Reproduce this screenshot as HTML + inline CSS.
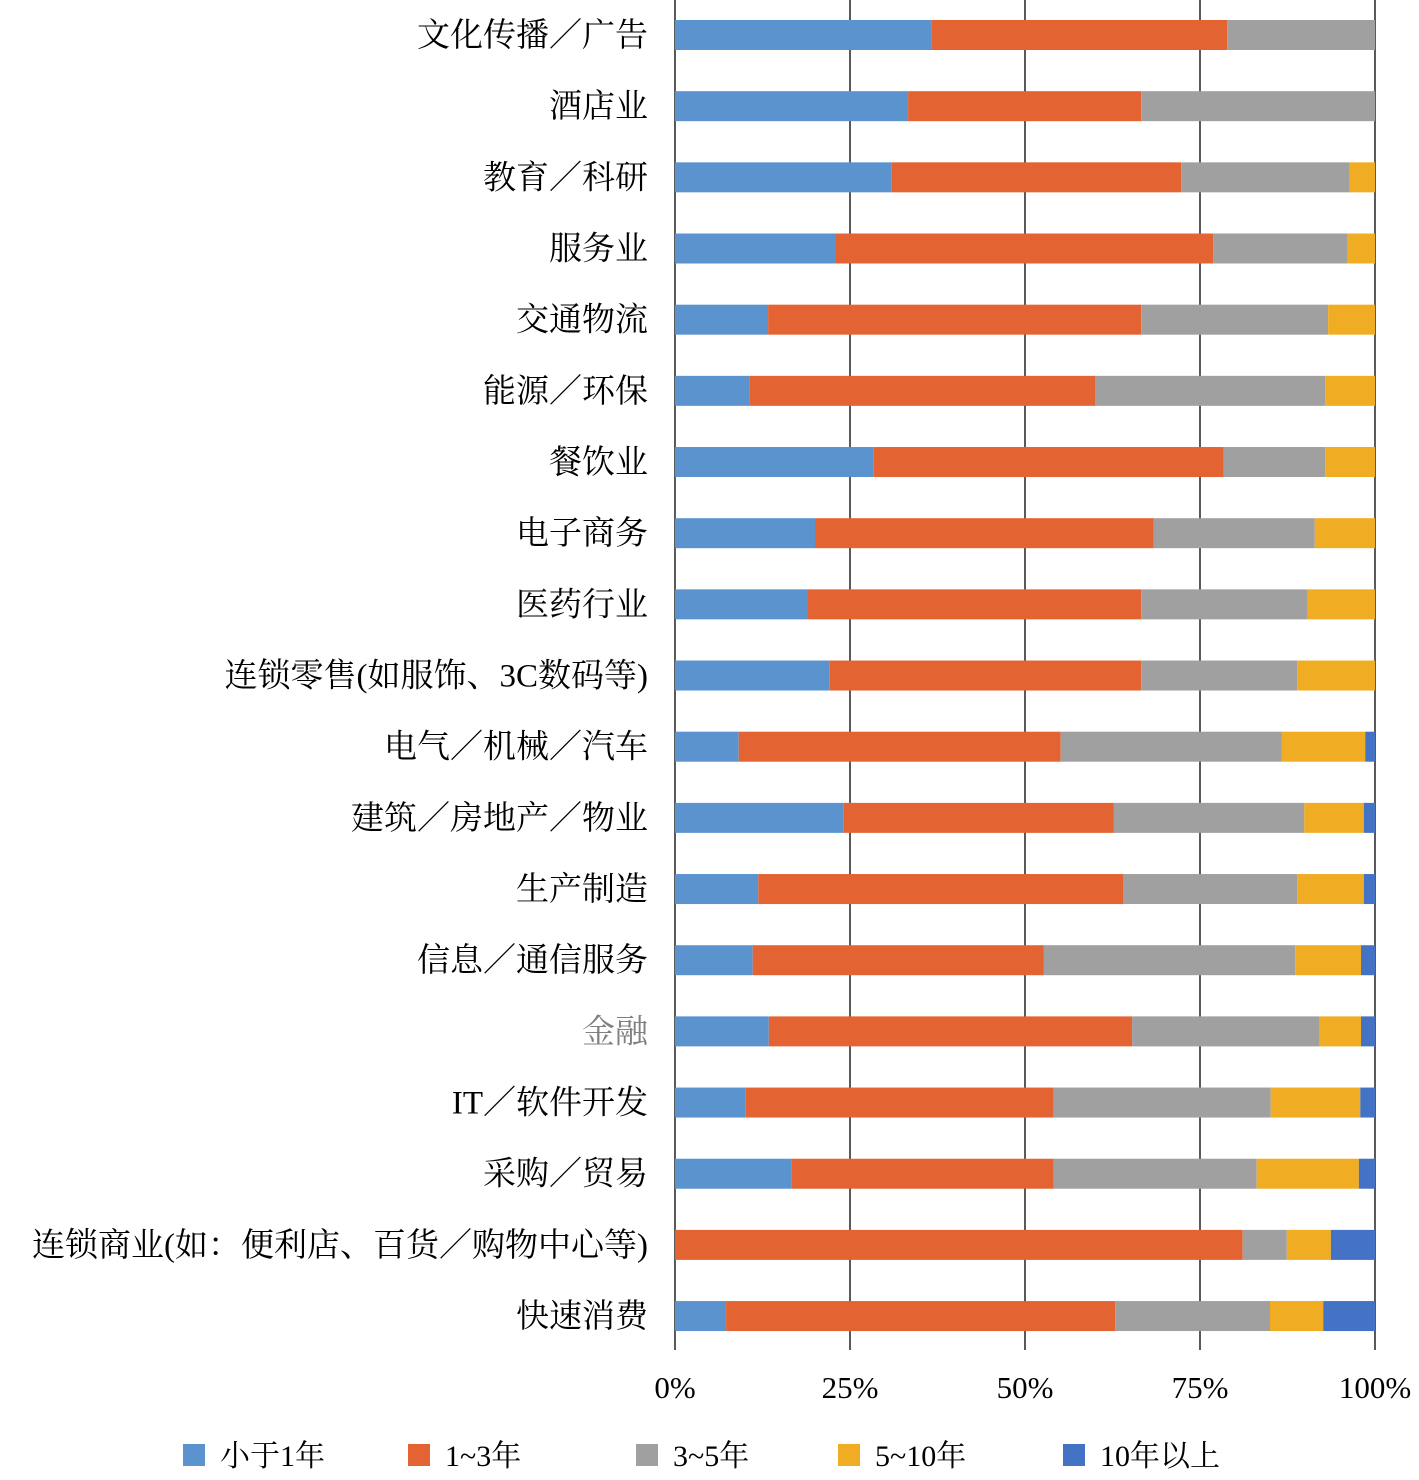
<!DOCTYPE html>
<html><head><meta charset="utf-8"><style>
body{margin:0;background:#fff;}
svg text{font-family:"Liberation Serif","Noto Serif CJK SC",serif;}
</style></head><body>
<svg id="chart" width="1419" height="1475" xmlns="http://www.w3.org/2000/svg"></svg>
<script>
const categories=["文化传播／广告","酒店业","教育／科研","服务业","交通物流","能源／环保","餐饮业","电子商务","医药行业","连锁零售(如服饰、3C数码等)","电气／机械／汽车","建筑／房地产／物业","生产制造","信息／通信服务","金融","IT／软件开发","采购／贸易","连锁商业(如：便利店、百货／购物中心等)","快速消费"];
const seriesNames=["小于1年","1~3年","3~5年","5~10年","10年以上"];
const lt1=[36.7,33.3,30.9,23,13.3,10.6,28.4,20,19,22.1,9.1,24.1,11.9,11.1,13.4,10.1,16.6,0,7.3];
const y1to3=[42.2,33.3,41.4,53.9,53.3,49.4,50,48.4,47.6,44.5,46,38.6,52.1,41.6,51.9,44,37.5,81.1,55.6];
const y3to5=[21.1,33.4,24.1,19.2,26.7,32.9,14.5,23,23.8,22.3,31.6,27.2,24.9,35.9,26.8,31,29,6.3,22.1];
const y5to10=[0,0,3.6,3.9,6.7,7.1,7.1,8.6,9.6,11.1,11.9,8.5,9.5,9.4,5.9,12.8,14.6,6.3,7.6];
const y10plus=[0,0,0,0,0,0,0,0,0,0,1.4,1.6,1.6,2,2,2.1,2.3,6.3,7.4];
const ticks=["0%","25%","50%","75%","100%"];
const tickVals=[0,25,50,75,100];
const colors=["#5b93cf","#e36432","#a0a0a0","#f0ad23","#4472c4"];
const series=[lt1,y1to3,y3to5,y5to10,y10plus];
const NS="http://www.w3.org/2000/svg";
const svg=document.getElementById('chart');
const x=v=>675+v*7;
const y=i=>35+i*71.17;
function el(t,a){const e=document.createElementNS(NS,t);for(const k in a)e.setAttribute(k,a[k]);svg.appendChild(e);return e;}
tickVals.forEach((v,i)=>{
 const l=el('line',{x1:x(v),x2:x(v),y1:0,y2:1350,stroke:'#000','stroke-width':1.3});
 
 
 const t=el('text',{x:x(v),y:1398,'font-size':31,'text-anchor':'middle'});
 t.textContent=ticks[i];
 
 
});
categories.forEach((c,i)=>{
 let acc=0;
 series.forEach((s,j)=>{
  const v=s[i];
  if(v>0){
   const r=el('rect',{x:x(acc),y:y(i)-15,width:v*7,height:30,fill:colors[j]});
   
   
  }
  acc+=v;
 });
 const t=el('text',{x:648,y:y(i)+11,'font-size':33,'text-anchor':'end',fill:c==="金融"?"#808080":"#000"});
 t.textContent=c;
 
 
});
const lx=[183,408,636,838,1063];
seriesNames.forEach((n,j)=>{
 const r=el('rect',{x:lx[j],y:1444,width:22,height:22,fill:colors[j]});
 
 
 const t=el('text',{x:lx[j]+37,y:1466,'font-size':30});
 t.textContent=n;
 
 
});
</script>
</body></html>
